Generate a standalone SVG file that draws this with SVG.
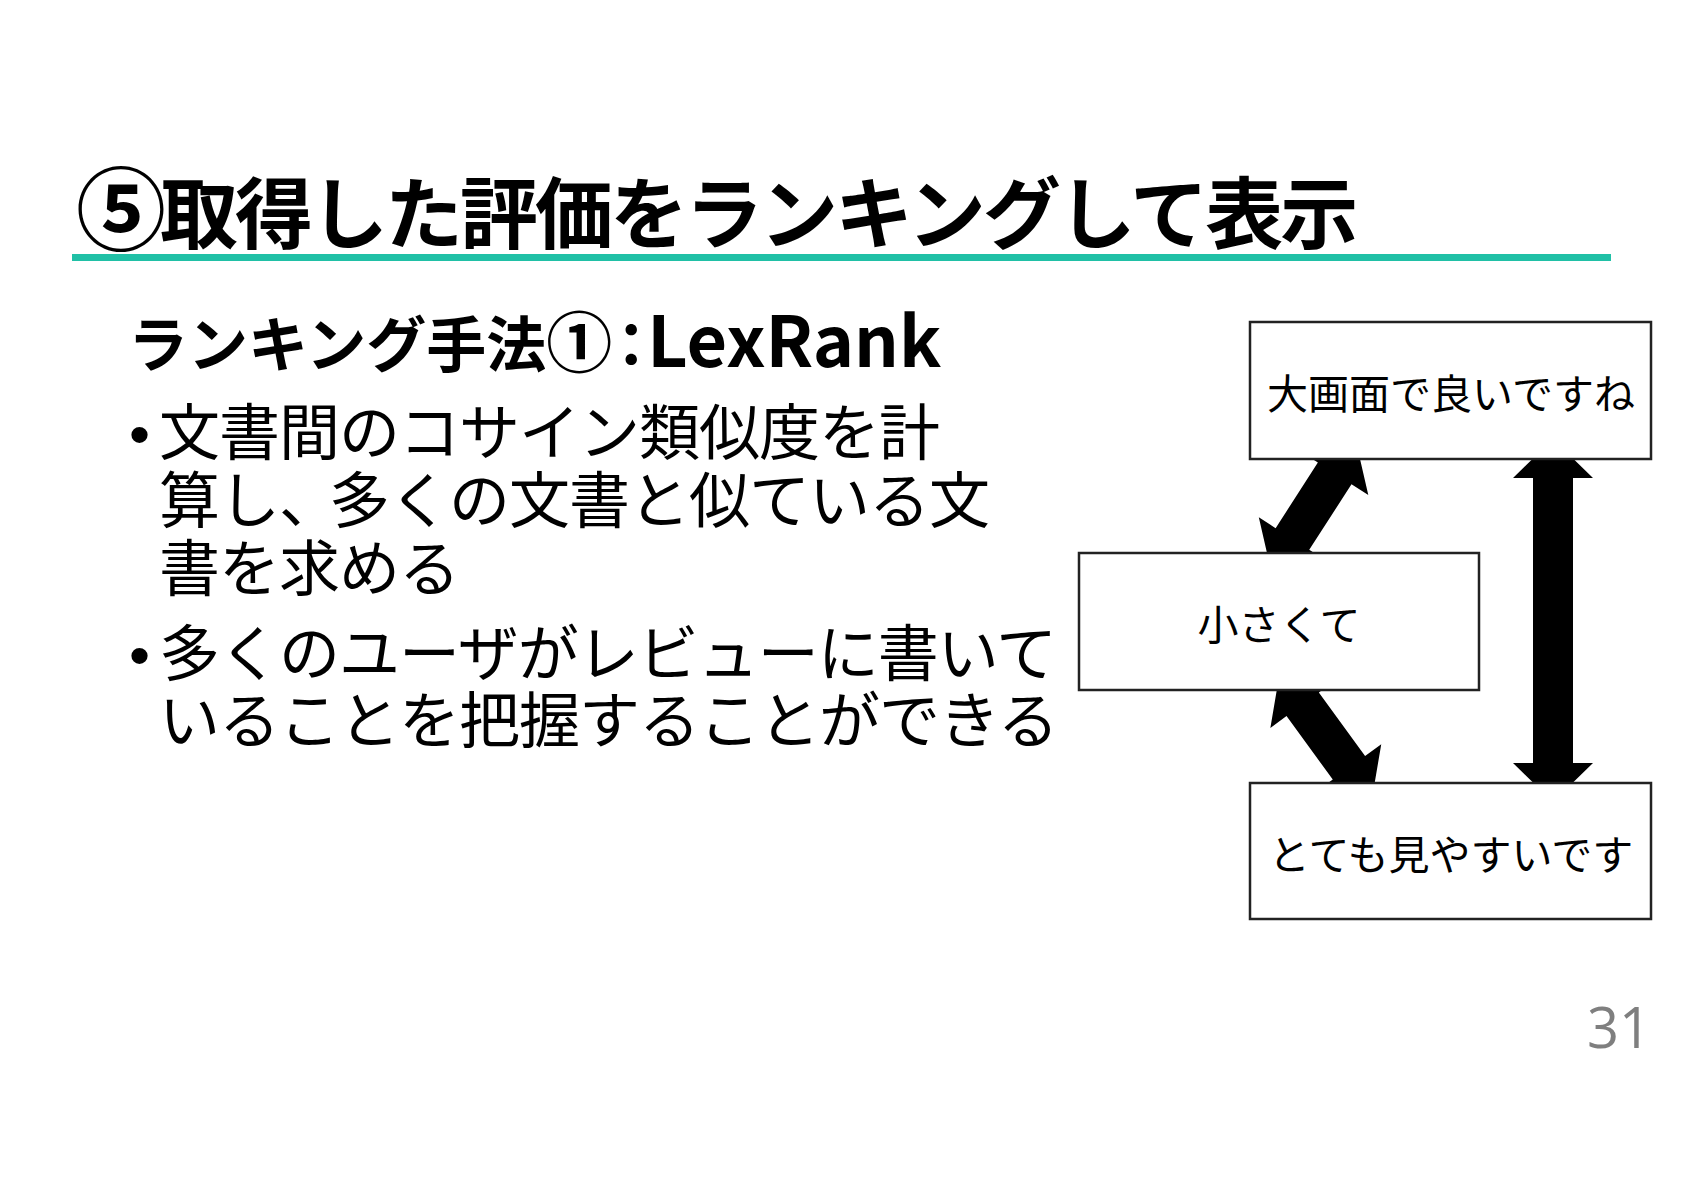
<svg xmlns="http://www.w3.org/2000/svg" width="1684" height="1191" viewBox="0 0 1684 1191">
<style>
.jp{font-family:"Noto Sans CJK JP","Noto Sans CJK SC",sans-serif;fill:#000}
.title{font-size:78px;font-weight:700;letter-spacing:-3px}
.sub{font-size:60px;font-weight:700}
.body{font-size:61px;letter-spacing:-1px}
.bul{font-family:"Liberation Sans",sans-serif;font-size:60px;fill:#000}
.box rect{fill:#fff;stroke:#222;stroke-width:2.5}
.box text{font-size:41px;text-anchor:middle}
.arrow{fill:#000}
</style>
<rect x="0" y="0" width="1684" height="1191" fill="#fff"/>
<g id="title">
<text class="jp title" x="76" y="243"><tspan font-size="90">⑤</tspan><tspan x="160">取得した評価をランキングして表示</tspan></text>
<rect x="72" y="254" width="1539" height="7" fill="#20c0a6"/>
</g>
<g id="subtitle">
<text class="jp sub" x="128" y="367">ランキング手法<tspan font-size="66" letter-spacing="-11px">①</tspan><tspan letter-spacing="-14px">：</tspan><tspan font-size="70">LexRank</tspan></text>
</g>
<g id="bullet1">
<text class="bul" x="129" y="455">•</text>
<text class="jp body" x="159" y="455">文書間のコサイン類似度を計<tspan x="159" dy="68">算し、</tspan><tspan dx="-10">多くの文書と似ている文</tspan><tspan x="159" dy="68">書を求める</tspan></text>
</g>
<g id="bullet2">
<text class="bul" x="129" y="676">•</text>
<text class="jp body" x="159" y="676">多くのユーザがレビューに書いて<tspan x="159" dy="67">いることを把握することができる</tspan></text>
</g>
<g id="connectors">
<polygon class="arrow" transform="translate(1553,439) rotate(90)" points="0,0 39,-40 39,-20 324,-20 324,-40 363,0 324,40 324,20 39,20 39,40"/>
<polygon class="arrow" transform="translate(1271.3,571.8) rotate(-57.2)" points="0,0 39,-40 39,-20 117,-20 117,-40 156,0 117,40 117,20 39,20 39,40"/>
<polygon class="arrow" transform="translate(1279.7,672.8) rotate(53.9)" points="0,0 39,-40 39,-20 117.5,-20 117.5,-40 156.5,0 117.5,40 117.5,20 39,20 39,40"/>
</g>
<g id="node-top" class="box">
<rect x="1250" y="322" width="401" height="137"/>
<text class="jp" x="1451" y="409">大画面で良いですね</text>
</g>
<g id="node-middle" class="box">
<rect x="1079" y="553" width="400" height="137"/>
<text class="jp" x="1279" y="640">小さくて</text>
</g>
<g id="node-bottom" class="box">
<rect x="1250" y="783" width="401" height="136"/>
<text class="jp" x="1451" y="870">とても見やすいです</text>
</g>
<g id="page-number">
<text x="1651" y="1048" font-family="'Open Sans','Noto Sans',sans-serif" font-size="56" fill="#7f7f7f" text-anchor="end">31</text>
</g>
</svg>
